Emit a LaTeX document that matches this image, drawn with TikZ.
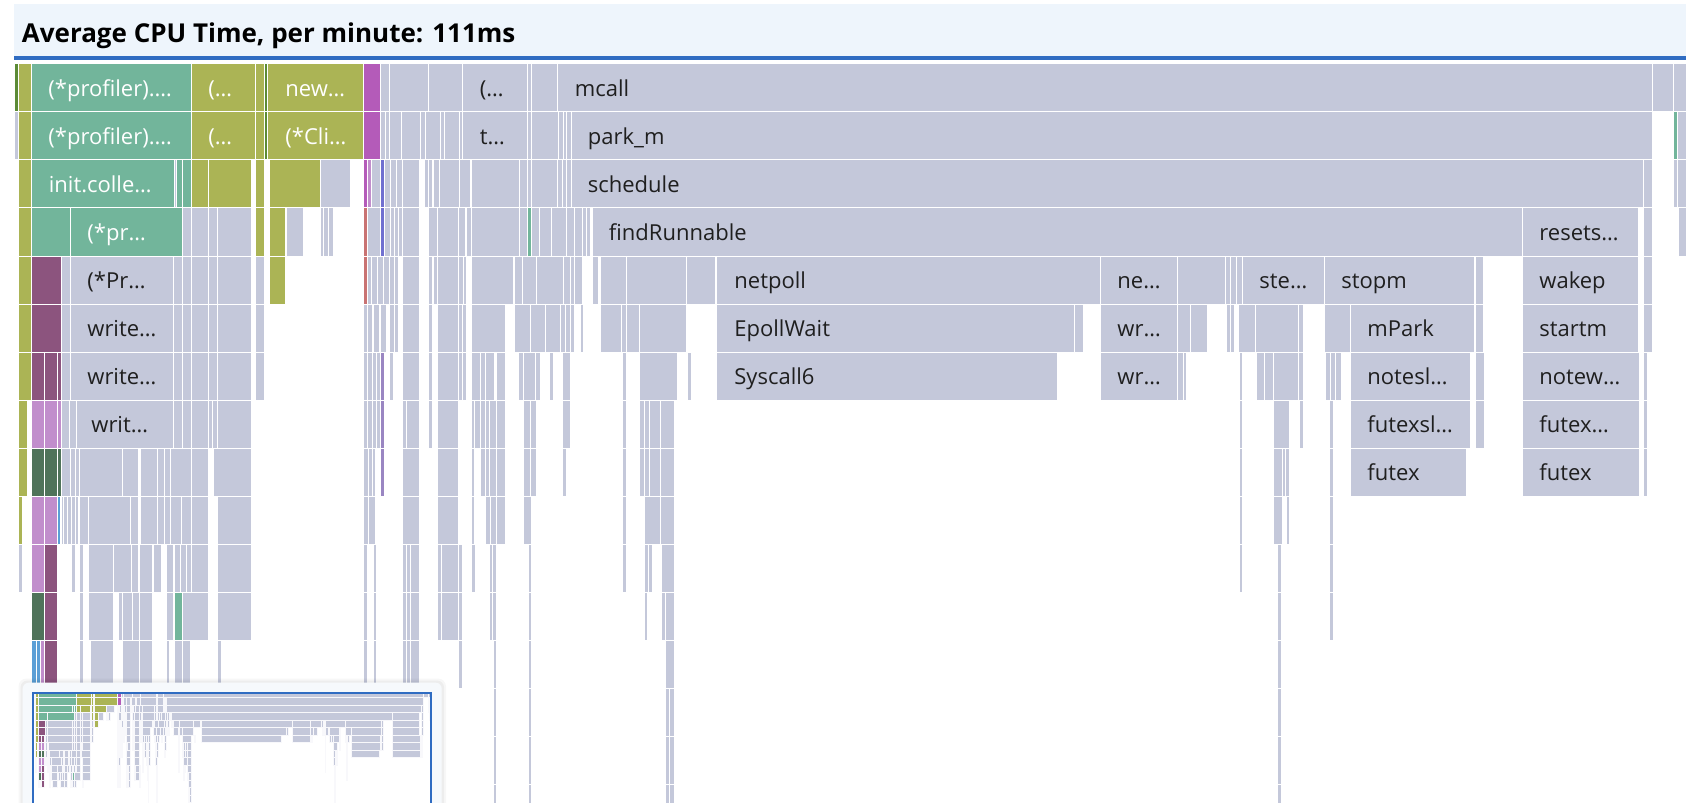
\documentclass[tikz,border=0pt]{standalone}
\usepackage{fontspec}
\setmainfont{Open Sans}
\usepackage{tikz}
\definecolor{FlameGray}{HTML}{C4C8DA}
\definecolor{FlameTeal}{HTML}{72B59B}
\definecolor{FlameOlive}{HTML}{ABB455}
\definecolor{FlameMagenta}{HTML}{B45BB9}
\definecolor{FlamePlum}{HTML}{8C547E}
\definecolor{FlameLilac}{HTML}{C18ECC}
\definecolor{FlameForest}{HTML}{4F735A}
\definecolor{FlameBlue}{HTML}{5B9FD6}
\definecolor{FlameRed}{HTML}{C97373}
\definecolor{FlameViolet}{HTML}{7070D0}
\definecolor{FlameLavender}{HTML}{9A86C2}
\definecolor{FlameMoss}{HTML}{5C8B36}
\definecolor{TitleBack}{HTML}{EEF5FC}
\definecolor{TitleLine}{HTML}{2F6CC2}
\definecolor{PanelBack}{HTML}{F6F9FC}
\definecolor{LabelDark}{HTML}{1F1F1F}

\tikzset{
  barline/.style={draw=white,line width=0.5pt},
  barlabel/.style={anchor=base west,inner sep=0pt,font=\fontsize{11}{13}\selectfont},
  titletext/.style={anchor=base west,inner sep=0pt,font=\bfseries\fontsize{13}{15}\selectfont},
}

\newcommand{\flamerow}[3]{%
  \foreach \barL/\barR in {#3}
    \path[barline,fill=#2] (\barL,{64+48*#1}) rectangle (\barR,{112+48*#1});%
}
\newcommand{\flamelabel}[5]{%
  \node[barlabel,text=#4] (#1) at (#3,{96.5+48*#2}) {#5};%
}

\newcommand{\flamegraph}{%
  \flamerow{0}{FlameMoss}{14/18.5,264/267.5}
  \flamerow{0}{FlameOlive}{18.5/31.5,191.5/255,255.5/264,267.5/363.5}
  \flamerow{0}{FlameTeal}{31.5/191.5}
  \flamerow{0}{FlameMagenta}{363.5/380.5}
  \flamerow{0}{FlameGray}{380.5/389.5,389.5/428,428/462.5,462.5/527.5,527.5/531.5,531.5/557.5,557.5/1652.5,1652.5/1673.5,1673.5/1686}
  %
  \flamerow{1}{FlameGray}{14/18.5}
  \flamerow{1}{FlameOlive}{18.5/31.5,191.5/255,255.5/264,267.5/363.5}
  \flamerow{1}{FlameMoss}{264/267.5}
  \flamerow{1}{FlameTeal}{31.5/191.5,1673.5/1677.5}
  \flamerow{1}{FlameMagenta}{363.5/380.5}
  \flamerow{1}{FlameGray}{380.5/385,385/389.5,389.5/401.5,401.5/420.5,420.5/425,425/440.5,440.5/444,444/459.5,459.5/462.5,462.5/527.5,527.5/531.5,531.5/558,558/563,563/566,566/571,571/1652.5,1677.5/1686}
  %
  \flamerow{2}{FlameOlive}{18.5/31.5,191.5/208,208/251,255.5/264,269.5/320}
  \flamerow{2}{FlameTeal}{31.5/174,176.5/182,182/191}
  \flamerow{2}{FlameMagenta}{363.5/367}
  \flamerow{2}{FlameLilac}{367/371}
  \flamerow{2}{FlameViolet}{380.5/384.5}
  \flamerow{2}{FlameGray}{174/176.5,320/350,371/380.5,384.5/390,390/396,396/402,402/419,424/428,428/432.5,433/439.5,439.5/459,459/470.5,471/519,519/527.5,527.5/531.5,531.5/557.5,557.5/562,562/566,566/571,571/1643,1643/1652.5,1673.5/1677.5,1677.5/1686}
  %
  \flamerow{3}{FlameOlive}{18.5/31.5,255.5/264,269.5/285.5}
  \flamerow{3}{FlameTeal}{31.5/70.5,70.5/182,527.5/531.5}
  \flamerow{3}{FlameRed}{363.5/367}
  \flamerow{3}{FlameViolet}{380.5/384.5}
  \flamerow{3}{FlameGray}{182/191.5,191.5/208.5,208.5/217.5,217.5/251,286/303.5,320/323.5,323.5/328.5,328.5/333.5,367/380.5,384.5/390,390/394,394/398,398/402,402/419,428.5/437.5,437.5/458.5,458.5/465.5,466/471,471.5/519,519/527.5,531.5/539.5,539.5/551,551/566,566/574,574/582,582/586,586/590.5,592/1522.5,1522.5/1638,1643/1652.5,1678.5/1686}
  %
  \flamerow{4}{FlameOlive}{18.5/31.5,269/285.5}
  \flamerow{4}{FlamePlum}{31.5/61.5}
  \flamerow{4}{FlameRed}{363.5/367}
  \flamerow{4}{FlameGray}{61.5/70.5,70.5/173.5,173.5/182,182/191.5,191.5/208.5,208.5/217.5,217.5/251,255.5/264,367/371,371/377,377/383,383/389.5,389.5/394,394/398,402.5/419,428.5/432,433.5/437.5,437.5/458.5,458.5/463,463/466,471.5/513,514.5/522,522/536,536/563,563/570.5,570.5/574.5,574.5/582,592/598,600/626.5,626.5/686.5,686.5/715.5,716.5/1100,1100/1177,1177/1225.5,1225.5/1230,1230/1236,1236/1242,1242/1324,1324/1474.5,1475.5/1483.5,1522.5/1638,1643/1652.5}
  %
  \flamerow{5}{FlameOlive}{18.5/31.5}
  \flamerow{5}{FlamePlum}{31.5/61.5}
  \flamerow{5}{FlameGray}{61.5/70.5,70.5/173.5,173.5/182,182/191.5,191.5/208.5,208.5/217.5,217.5/251,255.5/264,363.5/367,367/372,373/379,380/386,389.5/394,394/398,402.5/419,428.5/432,437/458.5,458.5/462,462/466,471.5/505,514.5/530,530/545,545/560,560/565,565/570,570/574,580/583,600/621,621/626,626/639,639/686.5,716.5/1074.5,1074.5/1083,1100/1177,1177.5/1190,1190/1207,1226/1230,1230/1234,1238.5/1255,1255.5/1298,1298.5/1303,1324.5/1350,1350/1474.5,1475.5/1483.5,1522.5/1638,1643/1652.5}
  %
  \flamerow{6}{FlameOlive}{18.5/31.5}
  \flamerow{6}{FlamePlum}{31.5/44.5,44.5/57,57/61.5}
  \flamerow{6}{FlameLavender}{380.5/384.5}
  \flamerow{6}{FlameGray}{61.5/70.5,70.5/173.5,173.5/182,182/191.5,191.5/208.5,208.5/217.5,217.5/251,255.5/264,363.5/367,367/372,372/376,376/380.5,389.5/393.5,402.5/419,428.5/432,437/458.5,458.5/462,462/466,471.5/480,480/485,485/494,496/505,518.5/523,523/535,535/540,549/553,562/570,622/626,639.5/677.5,687.5/691,716.5/1057,1100/1177,1177.5/1183,1183/1186,1239/1242,1256/1264,1264/1273,1273/1298,1298.5/1303,1325/1330,1330/1335,1335/1341,1350.5/1470.5,1475.5/1484,1522.5/1639,1643/1647}
  %
  \flamerow{7}{FlameOlive}{18.5/27}
  \flamerow{7}{FlameLilac}{31.5/44.5,44.5/57,57/61.5}
  \flamerow{7}{FlameLavender}{380.5/384.5}
  \flamerow{7}{FlameGray}{61.5/69,69/76,76/173.5,173.5/182,182/191.5,191.5/208.5,208.5/212.5,212.5/217.5,217.5/251,363.5/367,367/372,372/376.5,376.5/380.5,402.5/406.5,406.5/419,428.5/432,437/458.5,471.5/474.5,474.5/480,480/485,485/489.5,489.5/496,496/505,523/530,530/536,562/570,622/626,639.5/644,644/649,649/660,660/674,1239/1242,1273/1289,1299/1303,1329/1333,1350.5/1470.5,1475.5/1484,1522.5/1639,1643/1647}
  %
  \flamerow{8}{FlameOlive}{18.5/27}
  \flamerow{8}{FlameForest}{31.5/44.5,44.5/57,57/61.5}
  \flamerow{8}{FlameLavender}{380.5/384.5}
  \flamerow{8}{FlameGray}{61.5/70.5,70.5/75,75/79.5,79.5/122,122/138.5,140/157,157.5/164.5,164.5/170.5,170.5/191.5,191.5/208.5,213/251,363.5/368,368/372,372/375.5,402.5/419,437/458.5,471.5/474.5,480/485,485/489.5,489.5/496,496/505,523/530,530/536,562/566,622/626,639.5/644,644/649,649/660,660/674,1239/1242,1273/1282,1282/1285.5,1285.5/1289,1329/1333,1350.5/1466,1522.5/1639,1643/1647}
  %
  \flamerow{9}{FlameOlive}{18.5/22}
  \flamerow{9}{FlameLilac}{31.5/44.5,44.5/57}
  \flamerow{9}{FlameBlue}{57/60.5}
  \flamerow{9}{FlameGray}{61/63,63/67,67/71,71/75,75/78.5,79.5/88,88/130.5,130.5/138.5,140/157,157.5/164.5,164.5/170.5,170.5/181.5,181.5/191.5,191.5/208.5,217.5/251,363.5/368,368/375.5,402.5/419,437/458.5,471.5/474.5,485/490,490/496,496/505,523/531,622/626,644/660,660/674,1239/1242,1273/1282,1286.5/1289,1329/1333}
  %
  \flamerow{10}{FlameLilac}{31.5/44.5}
  \flamerow{10}{FlamePlum}{44.5/57}
  \flamerow{10}{FlameGray}{18.5/22,71/75,79.5/83.5,88/113.5,113.5/131,131/138.5,139.5/152,153/161,166.5/173,174/180,180/186,186/191.5,191.5/208.5,217.5/251,363.5/367.5,373/376,402.5/406.5,406.5/410,410/419,437/441,441/458.5,458.5/462,471.5/475,489/492.5,492.5/496.5,528/531,622.5/626,644/648,648/652,661/674,1239/1242,1277.5/1281,1329/1333}
  %
  \flamerow{11}{FlameForest}{31.5/44.5}
  \flamerow{11}{FlamePlum}{44.5/57}
  \flamerow{11}{FlameTeal}{174/182}
  \flamerow{11}{FlameGray}{79.5/83.5,88/113.5,118/122.5,122.5/132,132/139.5,139.5/152,166.5/173,182/208.5,217.5/251,363.5/367.5,373/376,402.5/406.5,406.5/410,410/419,437/441,441/458.5,458.5/462,489/492.5,492.5/496.5,528/531,644/647,661/665,665/674,1277.5/1281,1329/1333}
  %
  \flamerow{12}{FlameBlue}{31.5/36,36/40.5}
  \flamerow{12}{FlameLilac}{40.5/44.5}
  \flamerow{12}{FlamePlum}{44.5/57}
  \flamerow{12}{FlameGray}{79.5/83.5,90/113.5,122.5/139.5,139.5/152,166.5/169,174/182,182/190.5,217.5/221,363.5/367.5,373/376,402.5/406.5,406.5/410,410/419,458.5/462,493/496.5,528/531,665/674,1277.5/1281}
  %
  \foreach \rowno in {13,14,15} {
    \flamerow{\rowno}{FlameGray}{493/496.5,528/531,665/669.5,669.5/674,1277.5/1281}
  }
}

\begin{document}
\begin{tikzpicture}[x=0.5pt,y=-0.5pt]
    \useasboundingbox (0,0) rectangle (1700,802);
    \clip (0,0) rectangle (1700,802);
    \fill[TitleBack] (14,4) rectangle (1686,57);
    \fill[TitleLine] (14,56.5) rectangle (1686,60);
    \node[titletext] (title) at (21.5,42.5) {Average CPU Time, per minute: 111ms};
    \flamegraph
    \flamelabel{prof0}{0}{48}{white}{(*profiler).…}
    \flamelabel{paren0}{0}{208}{white}{(…}
    \flamelabel{new0}{0}{285}{white}{new…}
    \flamelabel{paren0b}{0}{479.5}{LabelDark}{(…}
    \flamelabel{mcall}{0}{574.5}{LabelDark}{mcall}
    \flamelabel{prof1}{1}{48}{white}{(*profiler).…}
    \flamelabel{paren1}{1}{208}{white}{(…}
    \flamelabel{cli1}{1}{285}{white}{(*Cli…}
    \flamelabel{t1}{1}{479.5}{LabelDark}{t…}
    \flamelabel{parkm}{1}{587.5}{LabelDark}{park\_m}
    \flamelabel{initcolle}{2}{48.5}{white}{init.colle…}
    \flamelabel{schedule}{2}{587.5}{LabelDark}{schedule}
    \flamelabel{pr3}{3}{87}{white}{(*pr…}
    \flamelabel{findrunnable}{3}{608.5}{LabelDark}{findRunnable}
    \flamelabel{resets}{3}{1539}{LabelDark}{resets…}
    \flamelabel{pr4}{4}{87}{LabelDark}{(*Pr…}
    \flamelabel{netpoll}{4}{734}{LabelDark}{netpoll}
    \flamelabel{ne4}{4}{1117}{LabelDark}{ne…}
    \flamelabel{ste4}{4}{1259}{LabelDark}{ste…}
    \flamelabel{stopm}{4}{1341}{LabelDark}{stopm}
    \flamelabel{wakep}{4}{1539}{LabelDark}{wakep}
    \flamelabel{write5}{5}{87}{LabelDark}{write…}
    \flamelabel{epollwait}{5}{734}{LabelDark}{EpollWait}
    \flamelabel{wr5}{5}{1117}{LabelDark}{wr…}
    \flamelabel{mpark}{5}{1367}{LabelDark}{mPark}
    \flamelabel{startm}{5}{1539}{LabelDark}{startm}
    \flamelabel{write6}{6}{87}{LabelDark}{write…}
    \flamelabel{syscall6}{6}{734}{LabelDark}{Syscall6}
    \flamelabel{wr6}{6}{1117}{LabelDark}{wr…}
    \flamelabel{notesl}{6}{1367}{LabelDark}{notesl…}
    \flamelabel{notew}{6}{1539}{LabelDark}{notew…}
    \flamelabel{writ7}{7}{91}{LabelDark}{writ…}
    \flamelabel{futexsl}{7}{1367}{LabelDark}{futexsl…}
    \flamelabel{futexw}{7}{1539}{LabelDark}{futex…}
    \flamelabel{futexa}{8}{1367}{LabelDark}{futex}
    \flamelabel{futexb}{8}{1539}{LabelDark}{futex}
    % minimap
    \fill[black,opacity=0.03,rounded corners=4pt] (18.5,678.5) rectangle (446,840);
    \fill[black,opacity=0.04,rounded corners=3.5pt] (20.5,680.5) rectangle (444,840);
    \fill[PanelBack,rounded corners=3pt] (22.7,682.7) rectangle (441.7,840);
    \fill[white] (33,692.5) rectangle (431,840);
    \begin{scope}
      \clip (34,693.7) rectangle (430,802);
      \begin{scope}[shift={(30.675,680)},xscale=0.2375,yscale=0.1563]
        \tikzset{barline/.style={draw=white!88!FlameGray,line width=0.25pt}}
        \flamegraph
      \end{scope}
    \end{scope}
    \draw[TitleLine,line width=0.85pt] (33.2,692.9) rectangle (431,840);
\end{tikzpicture}
\end{document}
